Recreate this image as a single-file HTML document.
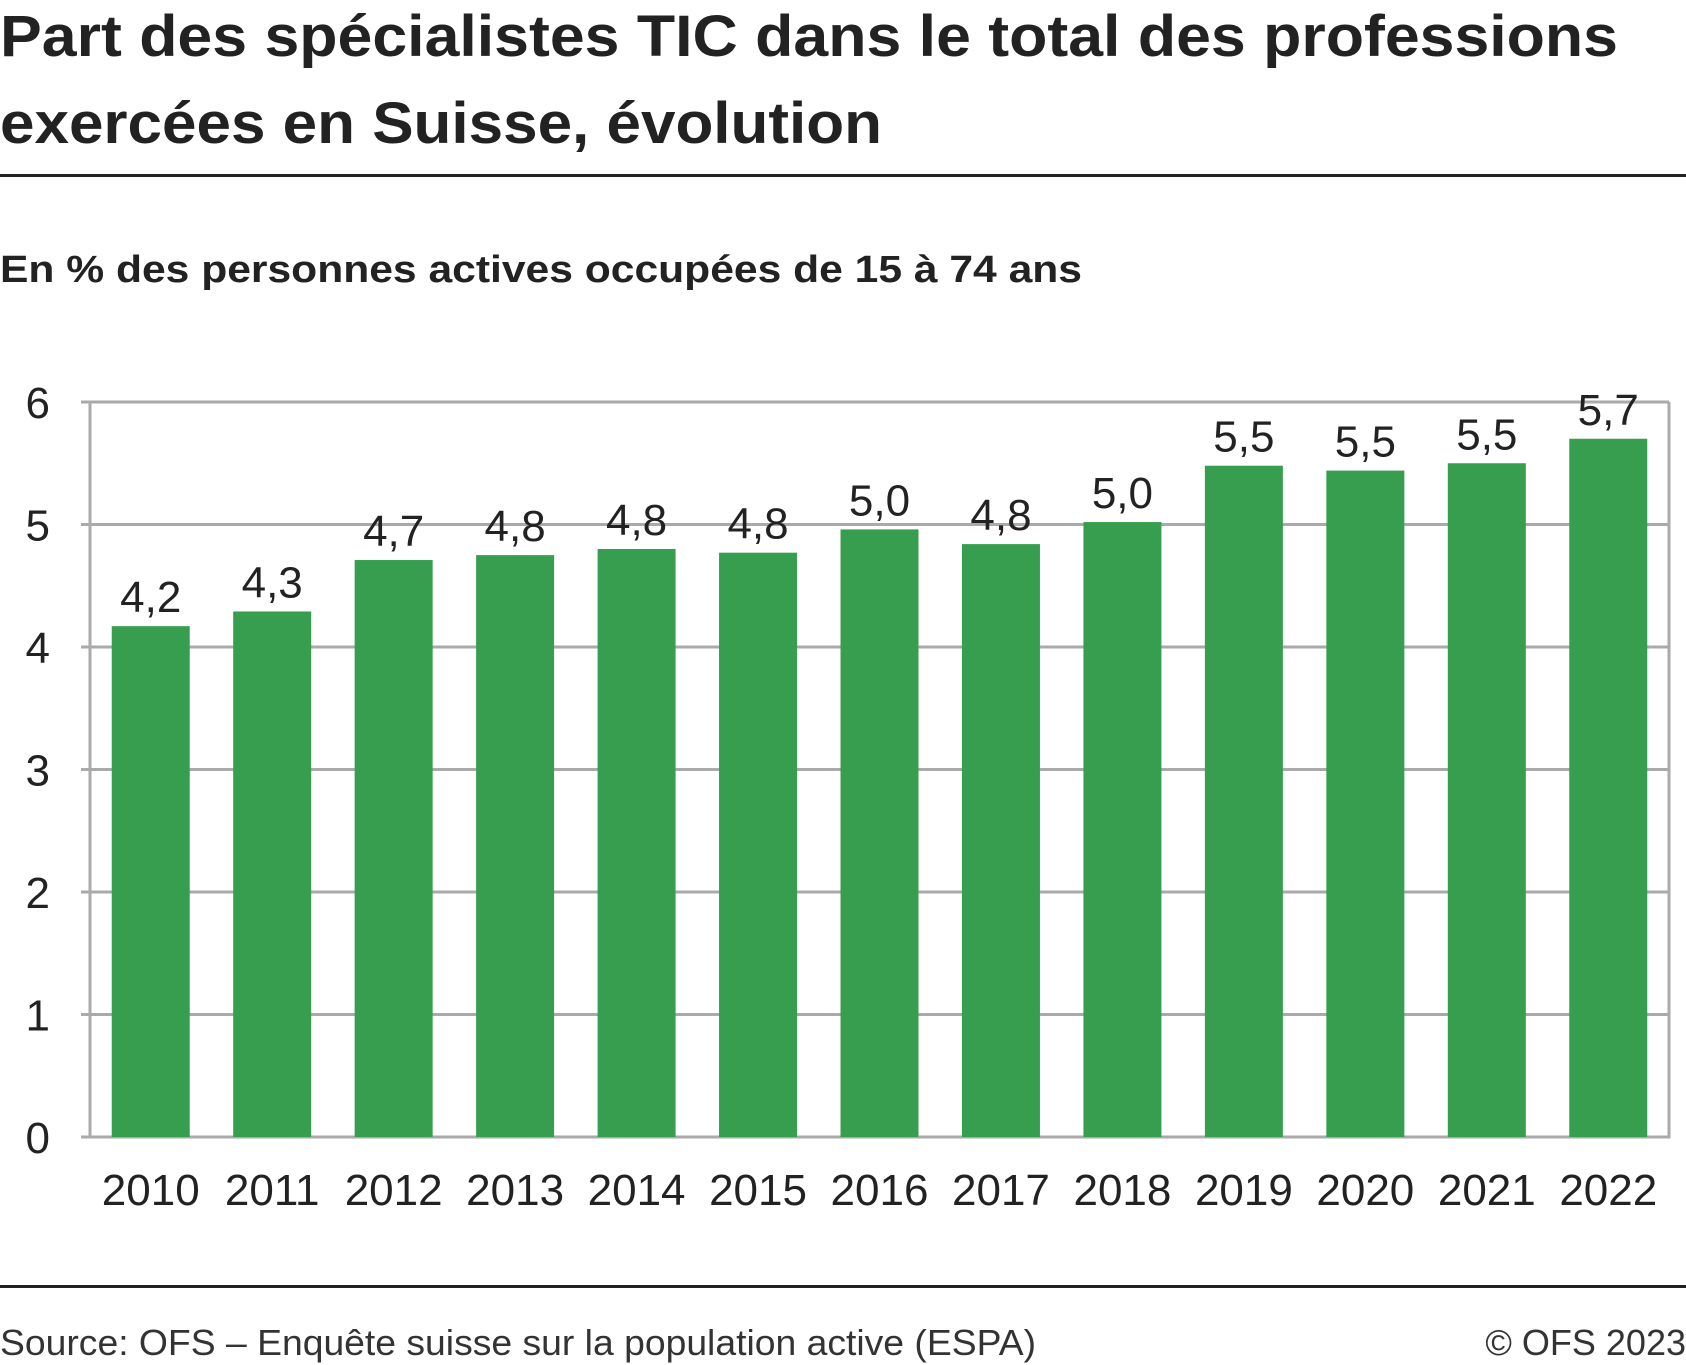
<!DOCTYPE html>
<html><head><meta charset="utf-8"><style>
body{margin:0;background:#fff;}
svg{display:block;font-family:"Liberation Sans",sans-serif;}
</style></head><body>
<svg id="chart" width="1686" height="1365" viewBox="0 0 1686 1365">
<text x="0" y="56" font-size="58" font-weight="bold" fill="#222" textLength="1618" lengthAdjust="spacingAndGlyphs">Part des spécialistes TIC dans le total des professions</text>
<text x="0" y="143" font-size="58" font-weight="bold" fill="#222" textLength="882" lengthAdjust="spacingAndGlyphs">exercées en Suisse, évolution</text>
<rect x="0" y="174" width="1686" height="3" fill="#222"/>
<text x="0" y="282" font-size="38" font-weight="bold" fill="#222" textLength="1082" lengthAdjust="spacingAndGlyphs">En % des personnes actives occupées de 15 à 74 ans</text>
<g id="grid"></g>
<g id="bars"></g>
<g id="labels"></g>
<g id="xaxis"></g>
<g id="yaxis"></g>
<rect x="0" y="1285" width="1686" height="3" fill="#222"/>
<text x="0" y="1355" font-size="36" fill="#333" textLength="1036" lengthAdjust="spacingAndGlyphs">Source: OFS – Enquête suisse sur la population active (ESPA)</text>
<text x="1686" y="1355" font-size="36" fill="#333" text-anchor="end">© OFS 2023</text>
</svg>
<script>
const categories=["2010","2011","2012","2013","2014","2015","2016","2017","2018","2019","2020","2021","2022"];
const values=[4.17,4.29,4.71,4.75,4.80,4.77,4.96,4.84,5.02,5.48,5.44,5.50,5.70];
const valueLabels=["4,2","4,3","4,7","4,8","4,8","4,8","5,0","4,8","5,0","5,5","5,5","5,5","5,7"];
const yTicks=[0,1,2,3,4,5,6];
const NS="http://www.w3.org/2000/svg";
const L=90,R=1669,T=402,B=1137,yMax=6;
const band=(R-L)/categories.length,bw=78;
function y(v){return B-(v/yMax)*(B-T);}
function x(i){return L+i*band+(band-bw)/2;}
function mk(tag,attrs,parent){const e=document.createElementNS(NS,tag);for(const k in attrs)e.setAttribute(k,attrs[k]);document.getElementById(parent).appendChild(e);return e;}
yTicks.forEach(t=>{
  const ln=mk('line',{x1:81,x2:R,y1:y(t),y2:y(t),stroke:'#aaa','stroke-width':3},'grid');
  
  
  const tx=mk('text',{x:50,y:y(t)+16,'font-size':44,'text-anchor':'end',fill:'#222'},'yaxis');
  tx.textContent=t;
  
  
});
const la=mk('line',{x1:L,x2:L,y1:T,y2:B+1.5,stroke:'#aaa','stroke-width':3},'grid');


const ra=mk('line',{x1:R,x2:R,y1:T,y2:B+1.5,stroke:'#aaa','stroke-width':3},'grid');


categories.forEach((c,i)=>{
  const r=mk('rect',{x:x(i),y:y(values[i]),width:bw,height:B-y(values[i]),fill:'#389e4f'},'bars');
  
  
  const t=mk('text',{x:x(i)+bw/2,y:y(values[i])-14,'font-size':44,'text-anchor':'middle',fill:'#222'},'labels');
  t.textContent=valueLabels[i];
  
  
  const xt=mk('text',{x:x(i)+bw/2,y:1205,'font-size':44,'text-anchor':'middle',fill:'#222'},'xaxis');
  xt.textContent=c;
  
  
});
</script>
</body></html>
